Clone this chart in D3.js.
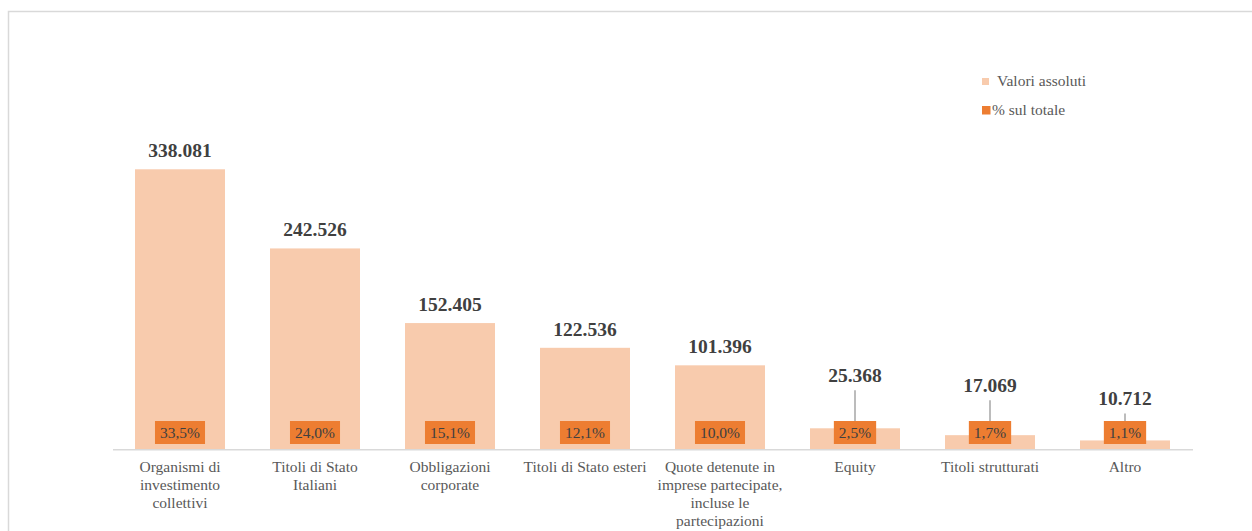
<!DOCTYPE html>
<html>
<head>
<meta charset="utf-8">
<script src="https://cdn.jsdelivr.net/npm/d3@7"></script>
<style>
  html, body { margin: 0; padding: 0; background: #fff; }
  svg { display: block; }
  svg text { font-family: "Liberation Serif", "Times New Roman", Times, "DejaVu Serif", serif; }
</style>
</head>
<body>
<svg id="chart" width="1252" height="531"></svg>
<script>
// Portfolio composition: absolute values and share of total
const categories = [
  "Organismi di investimento collettivi",
  "Titoli di Stato Italiani",
  "Obbligazioni corporate",
  "Titoli di Stato esteri",
  "Quote detenute in imprese partecipate, incluse le partecipazioni",
  "Equity",
  "Titoli strutturati",
  "Altro"
];
const absoluteValues = [338081, 242526, 152405, 122536, 101396, 25368, 17069, 10712];
const shareOfTotal = [33.5, 24.0, 15.1, 12.1, 10.0, 2.5, 1.7, 1.1];
const legendLabels = ["Valori assoluti", "% sul totale"];

// Extra lift (px) for value labels on short bars, joined by a leader line
const labelLift = [0, 0, 0, 0, 0, 34.6, 31.5, 23.4];

const FONT = "'Liberation Serif', 'Times New Roman', Times, 'DejaVu Serif', serif";
const fmtInt = d => d3.format(",")(d).replace(/,/g, ".");
const fmtPct = d => d.toFixed(1).replace(".", ",") + "%";

const svg = d3.select("#chart").attr("font-family", FONT);
const W = 1252, H = 531;

// Chart frame
svg.append("path")
  .attr("d", `M8.5,${H + 2} V11.5 H${W + 2}`)
  .attr("fill", "none").attr("stroke", "#d9d9d9").attr("stroke-width", 1.5);

const baseY = 449.3;
const x = d3.scaleBand().domain(categories).range([112.5, 1192.5]).paddingInner(1 / 3).paddingOuter(1 / 6);
const y = d3.scaleLinear().domain([0, 400000]).range([baseY, baseY - 331.3]);

// Bars
svg.append("g").selectAll("rect").data(categories).join("rect")
  .attr("x", d => x(d))
  .attr("width", x.bandwidth())
  .attr("y", (d, i) => y(absoluteValues[i]))
  .attr("height", (d, i) => baseY - y(absoluteValues[i]))
  .attr("fill", "#F8CBAD");

// Category axis
const axis = svg.append("g").attr("transform", `translate(0,${baseY})`)
  .call(d3.axisBottom(x).tickSize(0).tickPadding(0));
axis.select(".domain").attr("stroke", "#d9d9d9").attr("stroke-width", 1.5);
axis.selectAll(".tick text").remove();

// Wrap category names to the available width, measuring with the SVG text itself
const catG = svg.append("g").attr("font-family", FONT);
const maxW = 133;
categories.forEach(c => {
  const cx = x(c) + x.bandwidth() / 2;
  const t = catG.append("text")
    .attr("x", cx)
    .attr("y", 472.3)
    .attr("text-anchor", "middle")
    .attr("font-size", 15.5)
    .attr("fill", "#595959");
  const words = c.split(" ");
  let line = [];
  let tspan = t.append("tspan").attr("x", cx).attr("dy", 0);
  words.forEach(w => {
    line.push(w);
    tspan.text(line.join(" "));
    if (tspan.node().getComputedTextLength() > maxW && line.length > 1) {
      line.pop();
      tspan.text(line.join(" "));
      line = [w];
      tspan = t.append("tspan").attr("x", cx).attr("dy", 17.9).text(w);
    }
  });
});

// Percentage boxes near the base of each bar
const boxTop = 421, boxH = 23;
const pctG = svg.append("g");
categories.forEach((c, i) => {
  const cx = x(c) + x.bandwidth() / 2;
  const label = fmtPct(shareOfTotal[i]);
  const rect = pctG.append("rect").attr("y", boxTop).attr("height", boxH).attr("fill", "#ED7D31");
  const txt = pctG.append("text")
    .attr("x", cx).attr("y", boxTop + 17)
    .attr("text-anchor", "middle")
    .attr("font-size", 15.5)
    .attr("fill", "#404040")
    .text(label);
  const bw = txt.node().getComputedTextLength() + 10;
  rect.attr("x", cx - bw / 2).attr("width", bw);
});

// Value labels (with leader lines when lifted)
const valG = svg.append("g");
categories.forEach((c, i) => {
  const cx = x(c) + x.bandwidth() / 2;
  const top = y(absoluteValues[i]);
  const base = top - 12 - labelLift[i];
  if (labelLift[i] > 0) {
    valG.append("line")
      .attr("x1", cx).attr("x2", cx)
      .attr("y1", base + 8.5).attr("y2", boxTop)
      .attr("stroke", "#a6a6a6").attr("stroke-width", 1.5);
  }
  valG.append("text")
    .attr("x", cx).attr("y", base)
    .attr("text-anchor", "middle")
    .attr("font-size", 19.5)
    .attr("font-weight", "bold")
    .attr("fill", "#404040")
    .text(fmtInt(absoluteValues[i]));
});

// Legend
const legend = svg.append("g");
legend.append("rect").attr("x", 982).attr("y", 78).attr("width", 7).attr("height", 7).attr("fill", "#F8CBAD");
legend.append("text").attr("x", 997).attr("y", 86).attr("font-size", 15.5).attr("fill", "#595959").text(legendLabels[0]);
legend.append("rect").attr("x", 982).attr("y", 106).attr("width", 8.5).attr("height", 8.5).attr("fill", "#ED7D31");
legend.append("text").attr("x", 992).attr("y", 114.5).attr("font-size", 15.5).attr("fill", "#595959").text(legendLabels[1]);
</script>
</body>
</html>
